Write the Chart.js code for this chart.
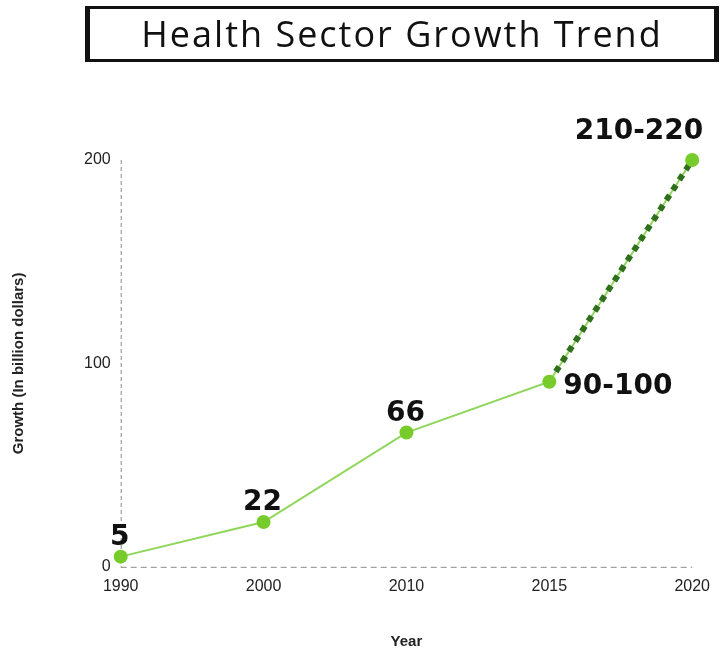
<!DOCTYPE html>
<html>
<head>
<meta charset="utf-8">
<script src="https://cdn.jsdelivr.net/npm/chart.js@4"></script>
<style>
  html, body { margin: 0; padding: 0; background: #fff; }
  #wrap { position: relative; width: 720px; height: 651px; }
  #titleBox {
    position: absolute; left: 85px; top: 6px; width: 624px; height: 50px;
    border-top: 3px solid #111; border-bottom: 3px solid #111;
    border-left: 5px solid #111; border-right: 5px solid #111;
    font-family: "Open Sans", sans-serif; font-size: 36px; color: #111;
    text-align: center; line-height: 50px; letter-spacing: 2px;
  }
  canvas { position: absolute; left: 0; top: 0; }
</style>
</head>
<body>
<div id="wrap">
  <canvas id="lineChart" width="720" height="651"></canvas>
  <div id="titleBox">Health Sector Growth Trend</div>
</div>
<script>
// chart data
const years = ['1990', '2000', '2010', '2015', '2020'];
const growth = [5, 22, 66, 91, 200];
const projected = [null, null, null, 91, 200];
const pointLabels = ['5', '22', '66', '90-100', '210-220'];
const yTicks = [0, 100, 200];

// dashed axis lines (border.dash only applies to grid lines)
const dashedAxes = {
  id: 'dashedAxes',
  beforeDatasetsDraw(chart) {
    const a = chart.chartArea;
    const ctx = chart.ctx;
    ctx.save();
    ctx.strokeStyle = '#8a8a8a';
    ctx.lineWidth = 1;
    ctx.setLineDash([4, 3]);
    ctx.beginPath();
    ctx.moveTo(a.left + 0.5, a.top);
    ctx.lineTo(a.left + 0.5, a.bottom);
    ctx.stroke();
    ctx.setLineDash([6, 4]);
    ctx.beginPath();
    ctx.moveTo(a.left, a.bottom + 0.5);
    ctx.lineTo(a.right, a.bottom + 0.5);
    ctx.stroke();
    ctx.restore();
  }
};

// big bold value labels next to each point
const valueLabels = {
  id: 'valueLabels',
  afterDatasetsDraw(chart) {
    const meta = chart.getDatasetMeta(0);
    const ctx = chart.ctx;
    ctx.save();
    ctx.font = 'bold 28px "DejaVu Sans", sans-serif';
    ctx.fillStyle = '#111';
    ctx.textBaseline = 'alphabetic';
    meta.data.forEach((pt, i) => {
      const txt = pointLabels[i];
      if (i === 3) {
        ctx.textAlign = 'left';
        ctx.fillText(txt, pt.x + 14, pt.y + 12);
      } else if (i === 4) {
        ctx.textAlign = 'right';
        ctx.fillText(txt, pt.x + 11, pt.y - 21);
      } else {
        ctx.textAlign = 'center';
        ctx.fillText(txt, pt.x - 1, pt.y - 12);
      }
    });
    ctx.restore();
  }
};

const ctxLine = document.getElementById('lineChart').getContext('2d');
new Chart(ctxLine, {
  type: 'line',
  data: {
    labels: years,
    datasets: [{
      label: 'points',
      data: growth,
      showLine: false,
      pointRadius: 7,
      pointBackgroundColor: '#77cc2c',
      pointBorderWidth: 0,
      order: 0,
      clip: false
    }, {
      label: 'projected',
      data: projected,
      borderColor: '#2f6e1c',
      borderWidth: 6,
      borderDash: [6, 6],
      pointRadius: 0,
      order: 1,
      clip: false
    }, {
      label: 'Growth',
      data: growth,
      borderColor: '#8fd65a',
      borderWidth: 2,
      pointRadius: 0,
      order: 2,
      clip: false
    }]
  },
  options: {
    responsive: false,
    animation: false,
    layout: { padding: { top: 160, right: 23, bottom: 0, left: 10 } },
    plugins: { legend: { display: false }, tooltip: { enabled: false } },
    scales: {
      x: {
        offset: false,
        grid: { display: false, drawTicks: false },
        border: { display: false },
        ticks: { color: '#222', font: { family: 'Liberation Sans', size: 16 }, padding: 10, maxRotation: 0 },
        title: { display: true, text: 'Year', color: '#222', font: { family: 'Liberation Sans', size: 15, weight: 'bold' }, padding: { top: 27, bottom: 0 } }
      },
      y: {
        min: 0,
        max: 200,
        afterBuildTicks(axis) { axis.ticks = yTicks.map(v => ({ value: v })); },
        grid: { display: false, drawTicks: false },
        border: { display: false },
        ticks: { color: '#222', font: { family: 'Liberation Sans', size: 16 }, padding: 10 },
        title: { display: true, text: 'Growth (In billion dollars)', color: '#222', font: { family: 'Liberation Sans', size: 15, weight: 'bold' }, padding: { top: 0, bottom: 46 } }
      }
    }
  },
  plugins: [dashedAxes, valueLabels]
});
</script>
</body>
</html>
